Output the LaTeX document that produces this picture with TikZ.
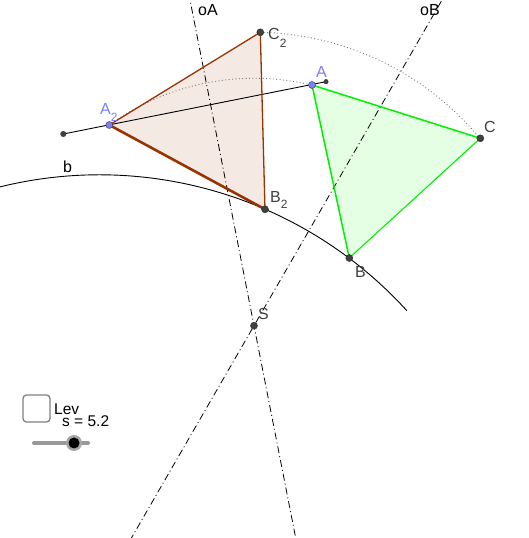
\documentclass[tikz,border=0pt]{standalone}
\usepackage{fontspec}
\setmainfont{Liberation Sans}
\usetikzlibrary{calc}
\definecolor{brownedge}{RGB}{153,51,0}
\definecolor{brownfill}{RGB}{244,233,227}
\definecolor{greenedge}{RGB}{0,240,0}
\definecolor{greenfill}{RGB}{229,255,229}
\definecolor{ptdark}{RGB}{64,64,64}
\definecolor{ptblue}{RGB}{125,125,255}
\definecolor{lbldark}{RGB}{64,64,64}
\newcommand\gsub[2]{\raisebox{-#1pt}{\fontsize{12}{12}\selectfont #2}}
\tikzset{
  lbl/.style={anchor=base west,inner sep=0pt,font=\fontsize{16}{18}\selectfont,text=lbldark},
  bluelbl/.style={lbl,text=ptblue},
  blacklbl/.style={lbl,text=black},
  mirror/.style={line width=0.8pt,dash pattern=on 7pt off 3pt on 1pt off 3pt},
  trace/.style={line width=0.9pt,black!55,dash pattern=on 0.9pt off 2.5pt},
  ptd/.style={circle,fill=ptdark,draw=black!80,line width=0.5pt,inner sep=0pt,minimum size=7pt},
  ptb/.style={circle,fill=ptblue,draw=black!70,line width=0.5pt,inner sep=0pt,minimum size=7pt},
  ptsmall/.style={circle,fill=ptdark,draw=black!80,line width=0.4pt,inner sep=0pt,minimum size=5.5pt},
}
\begin{document}
\begin{tikzpicture}[x=1pt,y=1pt]
\useasboundingbox (0,0) rectangle (529,538);
\clip (0,0) rectangle (529,538);
% coordinates
\coordinate (A) at (312,453);
\coordinate (Ap) at (326,456.3);
\coordinate (C) at (480.3,399.7);
\coordinate (B) at (349.3,280);
\coordinate (A2) at (109.3,413);
\coordinate (L) at (63.3,404);
\coordinate (B2) at (265,328.7);
\coordinate (C2) at (260.3,505.7);
\coordinate (S) at (254,212.3);
\coordinate (M) at ($(A)!0.5!(A2)$);
\coordinate (N) at ($(B)!0.5!(B2)$);
\coordinate (Ob) at (99.5,-52.4);
% triangles
\fill[brownfill] (A2) -- (B2) -- (C2) -- cycle;
\fill[greenfill] (A) -- (B) -- (C) -- cycle;
% mirror lines
\draw[mirror] ($(S)!-1.2!(M)$) -- ($(S)!1.7!(M)$);
\draw[mirror] ($(S)!-2.6!(N)$) -- ($(S)!3.8!(N)$);
% dotted traces
\draw[trace] let \p1=($(A2)-(S)$), \p2=($(A)-(S)$), \n1={atan2(\y1,\x1)}, \n2={atan2(\y2,\x2)}, \n3={veclen(\x1,\y1)} in (A2) arc[start angle=\n1, end angle=\n2, radius=\n3];
\draw[trace] let \p1=($(C2)-(S)$), \p2=($(C)-(S)$), \n1={atan2(\y1,\x1)}, \n2={atan2(\y2,\x2)}, \n3={veclen(\x1,\y1)} in (C2) arc[start angle=\n1, end angle=\n2, radius=\n3];
% arc b
\draw[line width=0.9pt] ([shift={(106:415.6)}]Ob) arc[start angle=106,end angle=42.3,radius=415.6];
% segment
\draw[line width=0.9pt] (L) -- (Ap);
% triangle edges
\draw[brownedge,line width=1.3pt] (B2) -- (C2) -- (A2);
\draw[brownedge,line width=2.6pt] (A2) -- (B2);
\draw[greenedge,line width=1.5pt] (B) -- (A) -- (C);
\draw[greenedge,line width=1.1pt] (B) -- (C);
% points
\node[ptsmall] (nL) at (L) {};
\node[ptsmall,minimum size=4.5pt] (nAp) at (Ap) {};
\node[ptb] (nA) at (A) {};
\node[ptb] (nA2) at (A2) {};
\node[ptd] (nB) at (B) {};
\node[ptd] (nC) at (C) {};
\node[ptd] (nB2) at (B2) {};
\node[ptd] (nC2) at (C2) {};
\node[ptd] (nS) at (S) {};
% labels
\node[blacklbl] (loA) at (198,522) {oA};
\node[blacklbl] (loB) at (420,522) {oB};
\node[blacklbl] (lb) at (63,365) {b};
\node[bluelbl] (lA) at (316,460) {A};
\node[bluelbl] (lA2) at (100,423) {A\gsub{7}{2}};
\node[lbl] (lC2) at (268,498) {C\gsub{8}{2}};
\node[lbl] (lB2) at (270,335) {B\gsub{6}{2}};
\node[lbl] (lC) at (484,405) {C};
\node[lbl] (lB) at (355,260) {B};
\node[lbl] (lS) at (258,218) {S};
% checkbox and slider
\draw[gray,line width=1.3pt,rounded corners=3.5pt] (23,116) rectangle (50,143);
\node[blacklbl,font=\fontsize{15.5}{16}\selectfont] (lLev) at (54,123) {Lev};
\node[blacklbl,font=\fontsize{15.5}{16}\selectfont] (ls) at (62,111) {s = 5.2};
\draw[gray!80,line width=4pt,line cap=round] (34,95) -- (88,95);
\fill[gray!70] (74,95) circle (8pt);
\fill[black] (74,95) circle (5.5pt);
\end{tikzpicture}
\end{document}
